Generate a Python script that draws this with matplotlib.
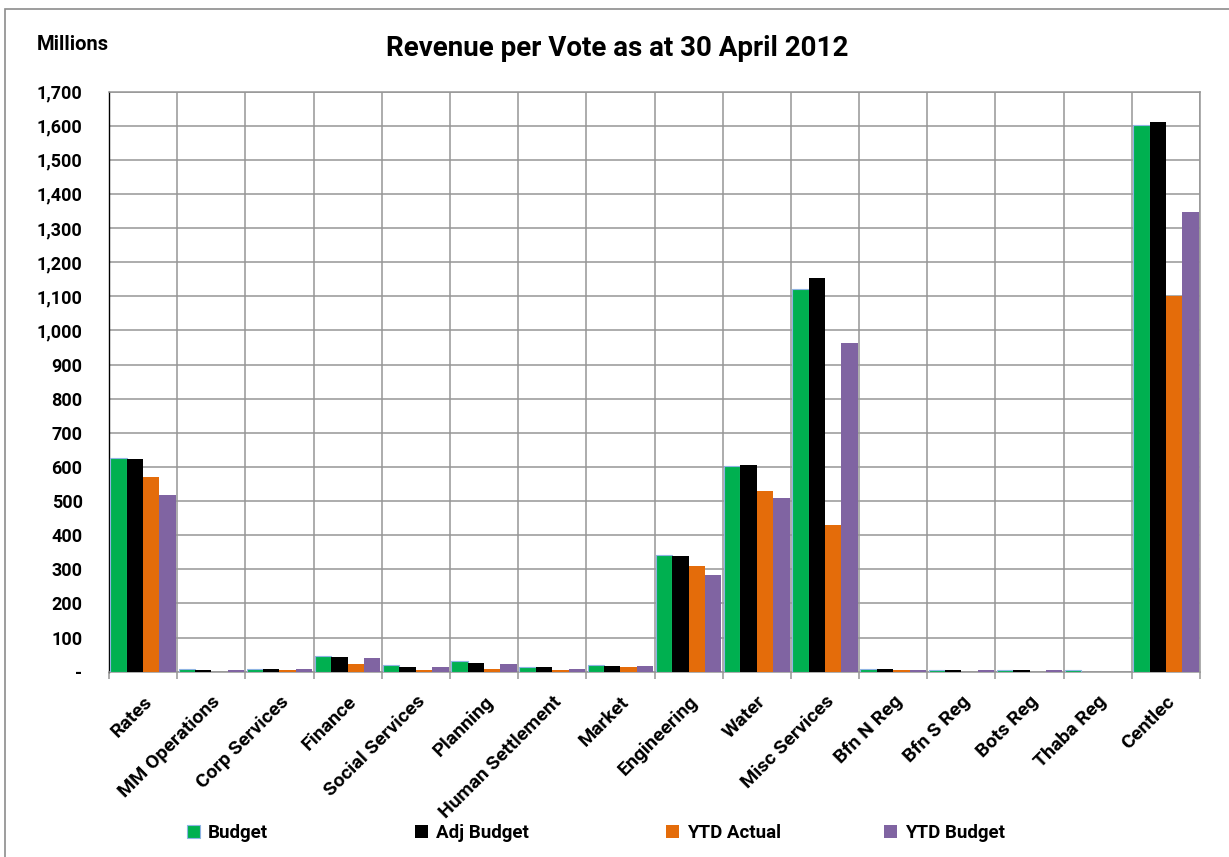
import numpy as np
import matplotlib
matplotlib.use("Agg")
import matplotlib.pyplot as plt
from matplotlib.patches import Rectangle
from matplotlib.ticker import FuncFormatter, MultipleLocator

plt.rcParams['font.family'] = ['Roboto', 'DejaVu Sans']
plt.rcParams['font.weight'] = 'bold'

# values in millions
votes = ['Rates', 'MM Operations', 'Corp Services', 'Finance', 'Social Services',
         'Planning', 'Human Settlement', 'Market', 'Engineering', 'Water',
         'Misc Services', 'Bfn N Reg', 'Bfn S Reg', 'Bots Reg', 'Thaba Reg', 'Centlec']
budget = [625, 9, 9, 47, 20, 31, 13, 21, 341, 603, 1120, 9, 4, 4, 4, 1603]
adj_budget = [622, 6, 9, 44, 15, 26, 15, 18, 339, 607, 1155, 9, 6, 6, 0, 1611]
ytd_actual = [570, 0, 6, 24, 6, 9, 6, 15, 310, 528, 430, 6, 0, 0, 0, 1100]
ytd_budget = [518, 6, 9, 41, 15, 24, 9, 18, 283, 508, 962, 6, 6, 6, 0, 1346]

series = [('Budget', budget, '#00B050'),
          ('Adj Budget', adj_budget, '#000000'),
          ('YTD Actual', ytd_actual, '#E46C0A'),
          ('YTD Budget', ytd_budget, '#8064A2')]

fig = plt.figure(figsize=(12.29, 8.57), dpi=100)
ax = fig.add_axes([109 / 1229, 1 - 671.7 / 857, (1200 - 109) / 1229, (671.7 - 91.5) / 857])

x = np.arange(len(votes))
w = 0.24
handles = []
for i, (name, vals, col) in enumerate(series):
    if name == 'Budget':
        b = ax.bar(x + (i - 1.5) * w, vals, w, color=col, edgecolor='#8EB4E3', linewidth=0.8,
                   label=name, zorder=3)
    else:
        b = ax.bar(x + (i - 1.5) * w, vals, w, color=col, linewidth=0, label=name, zorder=3)
    handles.append(b)

ax.set_xlim(-0.5, len(votes) - 0.5)
ax.set_ylim(0, 1700)
ax.yaxis.set_major_locator(MultipleLocator(100))
ax.yaxis.set_major_formatter(FuncFormatter(lambda v, p: '-' if v == 0 else f'{v:,.0f}'))
ax.grid(axis='y', color='#969696', linewidth=1.1, zorder=0)

# category boundaries for vertical grid and outward ticks
ax.set_xticks(np.arange(len(votes) + 1) - 0.5, minor=True)
ax.grid(axis='x', which='minor', color='#969696', linewidth=1.1, zorder=0)
ax.set_xticks(x)
ax.set_xticklabels(votes, rotation=45, ha='right', va='top', rotation_mode='anchor',
                   fontsize=14, fontweight='bold')
ax.tick_params(axis='x', which='major', length=0, pad=15)
ax.tick_params(axis='x', which='minor', length=5, color='#969696', width=1.1)
ax.tick_params(axis='y', length=0, pad=19, labelsize=13)
for lab in ax.get_yticklabels():
    lab.set_fontweight('bold')

for s in ['top', 'right', 'bottom']:
    ax.spines[s].set_color('#969696')
    ax.spines[s].set_linewidth(1.1)
ax.spines['left'].set_color('#000000')
ax.spines['left'].set_linewidth(1.0)

fig.text(0.502, 1 - 48 / 857, 'Revenue per Vote as at 30 April 2012', ha='center', va='center',
         fontsize=20, fontweight='bold')
fig.text(37 / 1229, 1 - 45 / 857, 'Millions', ha='left', va='center', fontsize=14.5, fontweight='bold')

# legend entries sit at uneven spacing, like the Excel original
legend_x = [187, 415, 666, 884]
for h, lx in zip(handles, legend_x):
    fig.legend(handles=[h], loc='center left', bbox_to_anchor=(lx / 1229, 1 - 833 / 857),
               frameon=False, handlelength=0.7, handleheight=0.7, handletextpad=0.4,
               borderpad=0, borderaxespad=0, prop={'weight': 'bold', 'size': 13.5})

fig.patches.append(Rectangle((5 / 1229, -0.01), 1.0, 1 - 9 / 857 + 0.01, transform=fig.transFigure,
                             fill=False, edgecolor='#8c8c8c', linewidth=1.2))

fig.savefig('out.png', dpi=100, facecolor='white')
